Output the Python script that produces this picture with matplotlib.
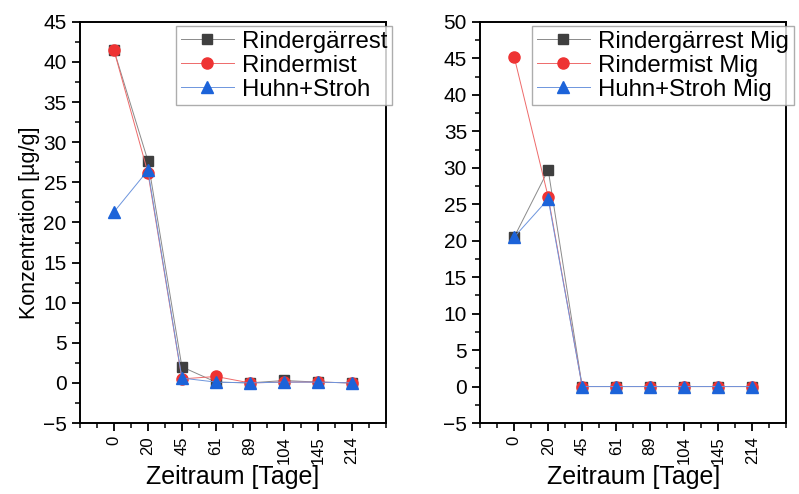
import matplotlib
matplotlib.use("Agg")
import matplotlib.pyplot as plt
from matplotlib.ticker import MultipleLocator

plt.rcParams["font.family"] = ["Liberation Sans", "DejaVu Sans"]

days = ["0", "20", "45", "61", "89", "104", "145", "214"]

# left panel
rindergaerrest = [41.5, 27.7, 2.0, 0.1, 0.0, 0.3, 0.1, 0.0]
rindermist = [41.5, 26.2, 0.5, 0.8, 0.0, 0.1, 0.1, 0.0]
huhn_stroh = [21.3, 26.5, 0.6, 0.1, 0.0, 0.1, 0.1, 0.0]

# right panel (Mig)
rindergaerrest_mig = [20.5, 29.7, 0.0, 0.0, 0.0, 0.0, 0.0, 0.0]
rindermist_mig = [45.2, 26.0, 0.0, 0.0, 0.0, 0.0, 0.0, 0.0]
huhn_stroh_mig = [20.5, 25.7, 0.0, 0.0, 0.0, 0.0, 0.0, 0.0]

GRAY, RED, BLUE = "#3f3f3f", "#ee3333", "#1c63d9"
LINE_GRAY, LINE_RED, LINE_BLUE = "#8a8a8a", "#ee6a6a", "#6d95dd"


def _panel(ax, series, labels, ylim, legend_x):
    x = list(range(len(days)))
    styles = [("s", GRAY, LINE_GRAY, 7), ("o", RED, LINE_RED, 8), ("^", BLUE, LINE_BLUE, 8)]
    for ys, lab, (m, mc, lc, ms) in zip(series, labels, styles):
        ax.plot(x, ys, color=lc, lw=0.7, marker=m, markersize=ms,
                markerfacecolor=mc, markeredgecolor=mc, label=lab)
    ax.set_xlim(-1, 8)
    ax.set_ylim(*ylim)
    ax.set_xticks(x)
    ax.set_xticklabels(days, rotation=90, fontsize=12)
    ax.xaxis.set_minor_locator(MultipleLocator(0.5))
    ax.yaxis.set_major_locator(MultipleLocator(5))
    ax.yaxis.set_minor_locator(MultipleLocator(2.5))
    ax.tick_params(axis="y", labelsize=15)
    ax.tick_params(which="major", direction="out", length=6, width=1.3)
    ax.tick_params(which="minor", direction="out", length=3.5, width=1.1)
    for s in ax.spines.values():
        s.set_linewidth(1.4)
    ax.set_xlabel("Zeitraum [Tage]", fontsize=18, labelpad=1)
    leg = ax.legend(loc="upper left", bbox_to_anchor=(legend_x, 0.99),
                    fontsize=17.3, frameon=True, fancybox=False,
                    handlelength=2.2, borderpad=0.2, labelspacing=0.08,
                    handletextpad=0.35, borderaxespad=0.0)
    leg.get_frame().set_edgecolor("#999999")
    leg.get_frame().set_linewidth(1.0)
    return leg


fig = plt.figure(figsize=(7.99, 4.94), dpi=100)
ax1 = fig.add_axes([0.100, 0.1437, 0.383, 0.812])
ax2 = fig.add_axes([0.601, 0.1437, 0.383, 0.812])

_panel(ax1, [rindergaerrest, rindermist, huhn_stroh],
       ["Rindergärrest", "Rindermist", "Huhn+Stroh"], (-5, 45), 0.314)
ax1.set_ylabel("Konzentration [µg/g]", fontsize=15.5, labelpad=2)

_panel(ax2, [rindergaerrest_mig, rindermist_mig, huhn_stroh_mig],
       ["Rindergärrest Mig", "Rindermist Mig", "Huhn+Stroh Mig"], (-5, 50), 0.17)

fig.savefig("out.png", dpi=100)
